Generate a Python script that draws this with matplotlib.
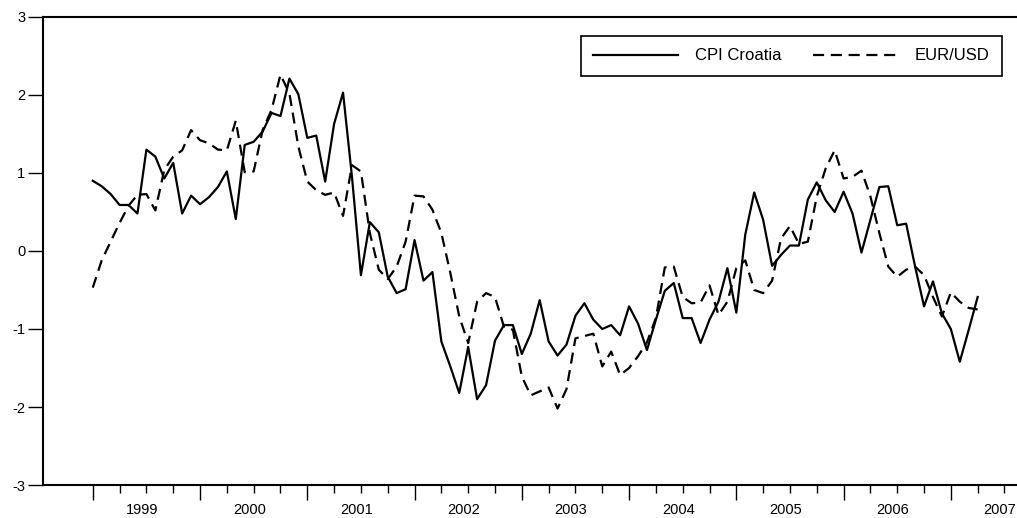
import numpy as np
import matplotlib
matplotlib.use("Agg")
import matplotlib.pyplot as plt

# monthly observations, 1999M01 .. 2007M04 (index 0 = 1999M01)
years = [1999, 2000, 2001, 2002, 2003, 2004, 2005, 2006, 2007]

cpi_croatia = [
    0.90, 0.83, 0.73, 0.59, 0.59, 0.48, 1.30, 1.21, 0.93, 1.13, 0.48, 0.71,
    0.60, 0.69, 0.82, 1.02, 0.41, 1.36, 1.40, 1.53, 1.77, 1.73, 2.21, 2.01,
    1.45, 1.48, 0.89, 1.63, 2.03, 0.95, -0.31, 0.37, 0.24, -0.33, -0.54, -0.49,
    0.14, -0.38, -0.27, -1.16, -1.48, -1.82, -1.23, -1.90, -1.72, -1.15, -0.95, -0.95,
    -1.32, -1.06, -0.63, -1.16, -1.34, -1.20, -0.83, -0.67, -0.88, -1.00, -0.95, -1.08,
    -0.71, -0.93, -1.27, -0.88, -0.51, -0.41, -0.86, -0.86, -1.18, -0.88, -0.65, -0.22,
    -0.79, 0.21, 0.75, 0.40, -0.19, -0.05, 0.07, 0.07, 0.66, 0.88, 0.65, 0.50,
    0.76, 0.48, -0.02, 0.40, 0.82, 0.83, 0.33, 0.35, -0.20, -0.71, -0.39, -0.80,
    -1.00, -1.42, -1.01, -0.59,
]

eur_usd = [
    -0.47, -0.12, 0.12, 0.36, 0.58, 0.72, 0.73, 0.52, 1.04, 1.21, 1.29, 1.55,
    1.42, 1.38, 1.30, 1.29, 1.67, 1.01, 1.02, 1.55, 1.81, 2.26, 2.02, 1.34,
    0.89, 0.78, 0.72, 0.75, 0.45, 1.10, 1.02, 0.23, -0.24, -0.36, -0.20, 0.12,
    0.71, 0.70, 0.53, 0.23, -0.28, -0.84, -1.18, -0.65, -0.54, -0.59, -0.97, -1.01,
    -1.61, -1.85, -1.80, -1.75, -2.02, -1.77, -1.12, -1.09, -1.06, -1.48, -1.29, -1.59,
    -1.50, -1.35, -1.17, -0.86, -0.21, -0.20, -0.59, -0.67, -0.66, -0.44, -0.82, -0.65,
    -0.22, -0.12, -0.50, -0.54, -0.38, 0.16, 0.32, 0.09, 0.12, 0.70, 1.06, 1.29,
    0.93, 0.95, 1.03, 0.70, 0.23, -0.20, -0.33, -0.24, -0.20, -0.31, -0.59, -0.84,
    -0.53, -0.65, -0.73, -0.75,
]

plt.rcParams["font.family"] = ["Liberation Sans", "DejaVu Sans"]
plt.rcParams["axes.unicode_minus"] = False

t = np.arange(len(cpi_croatia))

fig = plt.figure(figsize=(10.17, 5.18), dpi=100)
ax = fig.add_axes([0.042, 0.0637, 0.958, 0.9035])

ax.plot(t, cpi_croatia, color="black", linewidth=1.6, label="CPI Croatia")
ax.plot(t, eur_usd, color="black", linewidth=1.6, linestyle=(0, (5, 3)), label="EUR/USD")

ax.set_xlim(-5.6, 103.4)
ax.set_ylim(-3, 3)

# axis style (EViews look)
ax.spines["right"].set_visible(False)
for s in ["left", "bottom", "top"]:
    ax.spines[s].set_linewidth(1.5)

ax.set_yticks(range(-3, 4))
ax.tick_params(axis="y", direction="out", length=10.5, width=1.0, labelsize=10.5, pad=2)

year_starts = [12 * k for k in range(len(years))]
quarters = [q for q in range(0, 103, 3) if q % 12 != 0]
ax.set_xticks(year_starts)
ax.set_xticklabels([""] * len(year_starts))
ax.set_xticks(quarters, minor=True)
ax.tick_params(axis="x", which="major", direction="out", length=11, width=1.0)
ax.tick_params(axis="x", which="minor", direction="out", length=6, width=1.0)

for k, yr in enumerate(years):
    ax.text(12 * k + 5.5, -0.038, str(yr), transform=ax.get_xaxis_transform(),
            ha="center", va="top", fontsize=10.5, clip_on=False)

leg = ax.legend(loc="upper right", bbox_to_anchor=(1002 / 1017, 1 - 36 / 518),
                bbox_transform=fig.transFigure, ncol=2, fontsize=12,
                handlelength=5.1, handletextpad=1.0, columnspacing=1.9,
                borderpad=0.75, borderaxespad=0, fancybox=False,
                frameon=True, framealpha=1, edgecolor="black")
leg.get_frame().set_linewidth(1.2)

plt.savefig("out.png", dpi=100)
